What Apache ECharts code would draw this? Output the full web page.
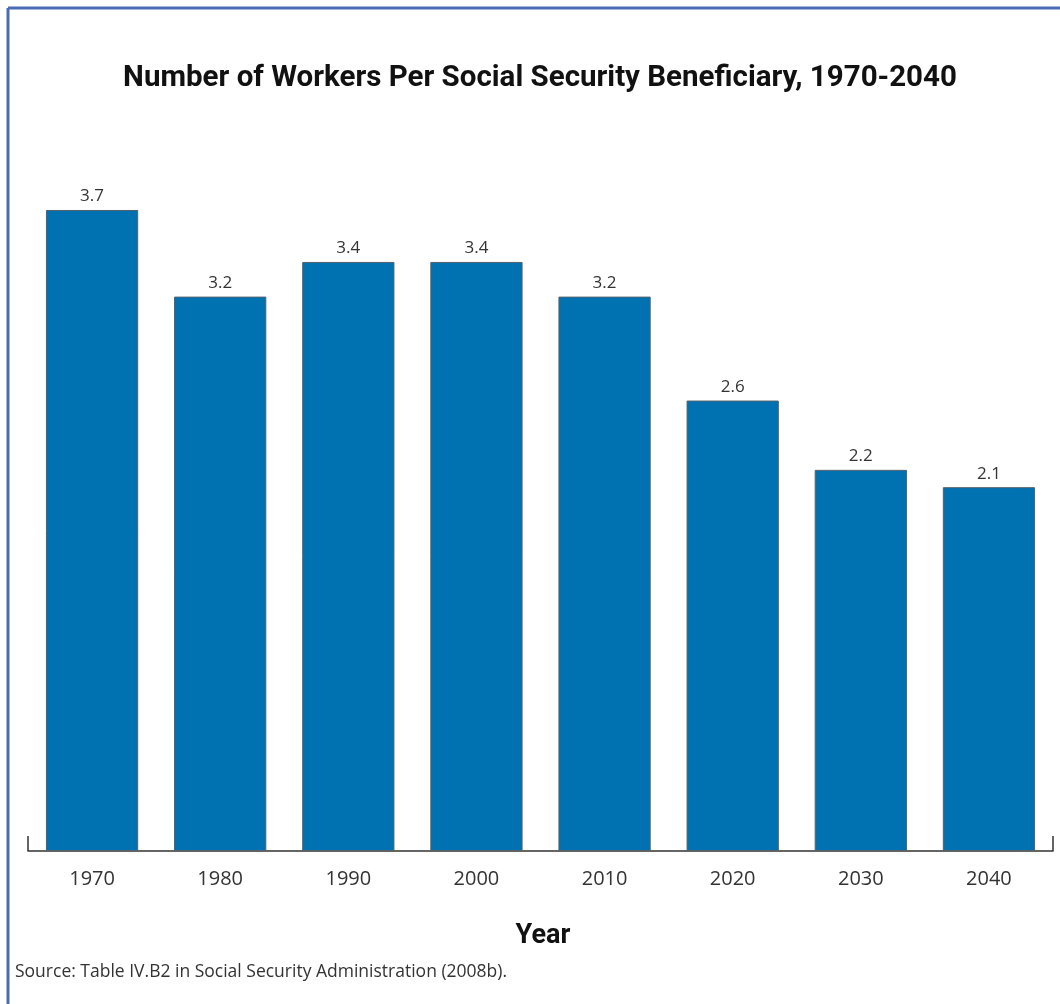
<!DOCTYPE html>
<html><head><meta charset="utf-8">
<script src="https://cdn.jsdelivr.net/npm/echarts@6/dist/echarts.min.js"></script>
<style>html,body{margin:0;padding:0;background:#fff;}#c{width:1060px;height:1004px;}</style>
</head><body><div id="c"></div>
<script>
const years = ['1970','1980','1990','2000','2010','2020','2030','2040'];
const workersPerBeneficiary = [3.7, 3.2, 3.4, 3.4, 3.2, 2.6, 2.2, 2.1];
const titleText = 'Number of Workers Per Social Security Beneficiary, 1970-2040';
const axisTitle = 'Year';
const sourceText = 'Source: Table IV.B2 in Social Security Administration (2008b).';

const chart = echarts.init(document.getElementById('c'), null, {renderer:'canvas'});
chart.setOption({
  animation: false,
  backgroundColor: '#fff',
  title: [
    {text: titleText, left: 535, textAlign: 'center', top: 59,
     textStyle: {fontFamily: 'Roboto', fontWeight: 'bold', fontSize: 29.5, color: '#111'}},
    {text: axisTitle, left: 538, textAlign: 'center', top: 918,
     textStyle: {fontFamily: 'Roboto', fontWeight: 'bold', fontSize: 27, color: '#111'}},
    {text: sourceText, left: 10, top: 958,
     textStyle: {fontFamily: 'Open Sans', fontWeight: 'normal', fontSize: 17.5, color: '#333'}}
  ],
  graphic: [
    {type: 'line', shape: {x1: 8, y1: 8, x2: 1060, y2: 8}, style: {stroke: '#4a6cb4', lineWidth: 3}},
    {type: 'line', shape: {x1: 8, y1: 8, x2: 8, y2: 1004}, style: {stroke: '#4a6cb4', lineWidth: 3}}
  ],
  grid: {left: 28, right: 7, top: 158, bottom: 153, containLabel: false},
  xAxis: {
    type: 'category', data: years, boundaryGap: true,
    axisLine: {lineStyle: {color: '#333', width: 1.5}},
    axisTick: {show: true, inside: true, length: 15, interval: function(i){ return i === 0; }, lineStyle: {color: '#333', width: 1.5}},
    axisLabel: {margin: 18, fontFamily: 'Open Sans', fontSize: 20, color: '#333'}
  },
  yAxis: {type: 'value', min: 0, max: 4, show: false, splitLine: {show: false}},
  series: [{
    type: 'bar', data: workersPerBeneficiary, barWidth: '72%',
    itemStyle: {color: '#0071b1', borderColor: '#55606a', borderWidth: 1},
    label: {show: true, position: 'top', distance: 5, fontFamily: 'Open Sans', fontSize: 17, color: '#333',
      formatter: p => p.value.toFixed(1)}
  }]
});
</script></body></html>
